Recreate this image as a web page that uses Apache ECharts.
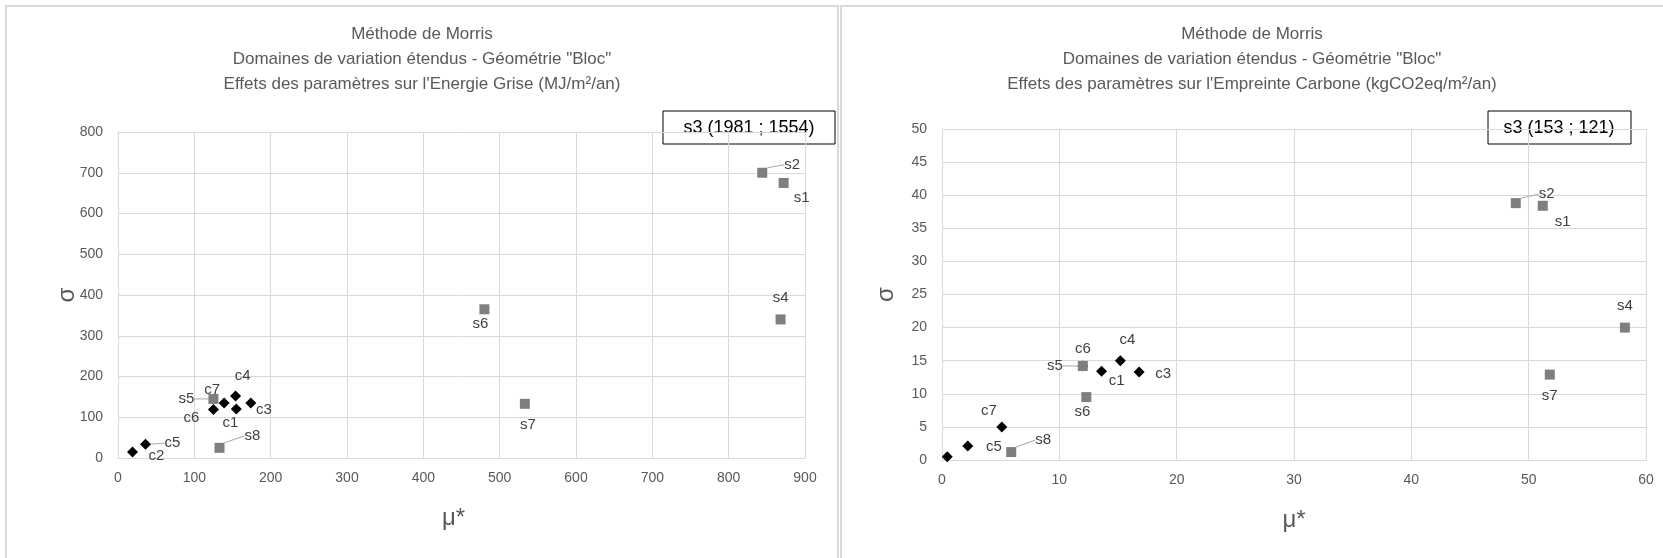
<!DOCTYPE html>
<html><head><meta charset="utf-8">
<script src="https://cdn.jsdelivr.net/npm/echarts@6/dist/echarts.min.js"></script>
<style>html,body{margin:0;padding:0;background:#fff;} #c{width:1663px;height:558px;}</style>
</head><body><div id="c"></div>
<script>
// ---- data ----
const cNames = ['c1','c2','c3','c4','c5','c6','c7'];
const sNames = ['s1','s2','s4','s5','s6','s7','s8'];
// Energie Grise (MJ/m²/an)
const egMuC  = [155, 19, 174, 154, 36, 125, 139];
const egSigC = [120, 15, 135, 152, 34, 119, 135];
const egMuS  = [872, 844, 868, 125, 480, 533, 133];
const egSigS = [675, 700, 340, 145, 365, 133, 25];
const egS3   = [1981, 1554];
// Empreinte Carbone (kgCO2eq/m²/an)
const ecMuC  = [13.6, 0.45, 16.8, 15.2, 2.2, 12.0, 5.1];
const ecSigC = [13.4, 0.5, 13.3, 15.0, 2.1, 14.2, 5.0];
const ecMuS  = [51.2, 48.9, 58.2, 12.0, 12.3, 51.8, 5.9];
const ecSigS = [38.4, 38.8, 20.0, 14.2, 9.5, 12.9, 1.2];
const ecS3   = [153, 121];
// axes
const egXMax = 900, egXStep = 100, egYMax = 800, egYStep = 100;
const ecXMax = 60, ecXStep = 10, ecYMax = 50, ecYStep = 5;
const titleEG = 'Méthode de Morris\nDomaines de variation étendus - Géométrie "Bloc"\nEffets des paramètres sur l\'Energie Grise (MJ/m²/an)';
const titleEC = 'Méthode de Morris\nDomaines de variation étendus - Géométrie "Bloc"\nEffets des paramètres sur l\'Empreinte Carbone (kgCO2eq/m²/an)';

// ---- styling / label placement ----
const FONT = '"Liberation Sans", Arial, sans-serif';
const GREY = '#595959';
const labelPos = {
  eg: { c1:[-6,14], c2:[24,4], c3:[13,7], c4:[7,-20], c5:[27,-1], c6:[-22,8], c7:[-12,-13],
        s1:[18,15], s2:[30,-8], s4:[0,-22], s5:[-27,0], s6:[-4,15], s7:[3,21], s8:[33,-12] },
  ec: { c1:[15,10], c2:[14,5], c3:[24,2], c4:[7,-21], c5:[26,1], c6:[0,-17], c7:[-13,-16],
        s1:[20,16], s2:[31,-9], s4:[0,-22], s5:[-28,0], s6:[-4,15], s7:[0,21], s8:[32,-12] }
};
const leaders = { eg:['s2','s5','s8','c5'], ec:['s2','s5','s8'] };
const hiddenLabels = { eg:[], ec:['c2'] };

function mkSeries(key, gi, mu, sig, names, symbol, size, color, z){
  return {
    type:'scatter', xAxisIndex:gi, yAxisIndex:gi, symbol:symbol, symbolSize:size, z:z,
    itemStyle:{color:color, opacity:1},
    data: mu.map((m,i)=>({name:names[i], value:[m, sig[i]],
      label:{show: hiddenLabels[key].indexOf(names[i])<0},
      labelLine:{show: leaders[key].indexOf(names[i])>=0}})),
    label:{show:true, position:'inside', formatter:'{b}', color:'#404040', fontSize:15, fontFamily:FONT},
    labelLayout: function(p){ const o = labelPos[key][names[p.dataIndex]]; return {dx:o[0], dy:o[1]}; },
    labelLine:{show:false, lineStyle:{color:'#a6a6a6', width:1}},
    emphasis:{disabled:true}, silent:true
  };
}
function mkX(gi, max, step, gap, pad){
  return {gridIndex:gi, type:'value', min:0, max:max, interval:step,
    name:'μ*', nameLocation:'middle', nameGap:gap, nameMoveOverlap:false,
    nameTextStyle:{fontSize:24, color:GREY, fontFamily:FONT, padding:pad},
    axisLine:{show:true, lineStyle:{color:'#d9d9d9'}}, axisTick:{show:false},
    axisLabel:{color:GREY, fontSize:14, margin:13, fontFamily:FONT},
    splitLine:{show:true, lineStyle:{color:'#d9d9d9'}}};
}
function mkY(gi, max, step, gap){
  return {gridIndex:gi, type:'value', min:0, max:max, interval:step,
    name:'σ', nameLocation:'middle', nameGap:gap, nameRotate:90, nameMoveOverlap:false,
    nameTextStyle:{fontSize:24, color:GREY, fontFamily:FONT},
    axisLine:{show:true, lineStyle:{color:'#d9d9d9'}}, axisTick:{show:false},
    axisLabel:{color:GREY, fontSize:14, margin:15, fontFamily:FONT},
    splitLine:{show:true, lineStyle:{color:'#d9d9d9'}}};
}
function annot(cx, x, w, txt){
  return {type:'group', silent:true, z:100, children:[
    {type:'rect', shape:{x:x, y:111, width:w, height:33}, style:{fill:'#fff', stroke:'#000', lineWidth:1}},
    {type:'text', style:{text:txt, x:cx, y:128, align:'center', verticalAlign:'middle', fontSize:18, fontFamily:FONT, fill:'#000'}}
  ]};
}

const chart = echarts.init(document.getElementById('c'));
chart.setOption({
  animation:false,
  backgroundColor:'#fff',
  title:[
    {text:titleEG, left:422, top:22, padding:0, textAlign:'center',
     textStyle:{fontSize:17, lineHeight:25, fontWeight:'normal', color:GREY, fontFamily:FONT}},
    {text:titleEC, left:1252, top:22, padding:0, textAlign:'center',
     textStyle:{fontSize:17, lineHeight:25, fontWeight:'normal', color:GREY, fontFamily:FONT}}
  ],
  grid:[
    {left:118, top:132, width:687, height:326},
    {left:942, top:129, width:704, height:331}
  ],
  xAxis:[mkX(0, egXMax, egXStep, 48, [0,16,0,0]), mkX(1, ecXMax, ecXStep, 48, 0)],
  yAxis:[mkY(0, egYMax, egYStep, 39), mkY(1, ecYMax, ecYStep, 44)],
  series:[
    mkSeries('eg', 0, egMuC, egSigC, cNames, 'diamond', 11, '#000', 2),
    mkSeries('eg', 0, egMuS, egSigS, sNames, 'rect', 10, '#7f7f7f', 3),
    mkSeries('ec', 1, ecMuC, ecSigC, cNames, 'diamond', 11, '#000', 2),
    mkSeries('ec', 1, ecMuS, ecSigS, sNames, 'rect', 10, '#7f7f7f', 3)
  ],
  graphic:[
    {type:'rect', silent:true, z:-10, shape:{x:6, y:6, width:832, height:580}, style:{fill:'none', stroke:'#d9d9d9', lineWidth:2}},
    {type:'rect', silent:true, z:-10, shape:{x:841, y:6, width:840, height:580}, style:{fill:'none', stroke:'#d9d9d9', lineWidth:2}},
    annot(749, 663, 172, 's3 (' + egS3[0] + ' ; ' + egS3[1] + ')'),
    annot(1559, 1488, 143, 's3 (' + ecS3[0] + ' ; ' + ecS3[1] + ')')
  ]
});
</script></body></html>
